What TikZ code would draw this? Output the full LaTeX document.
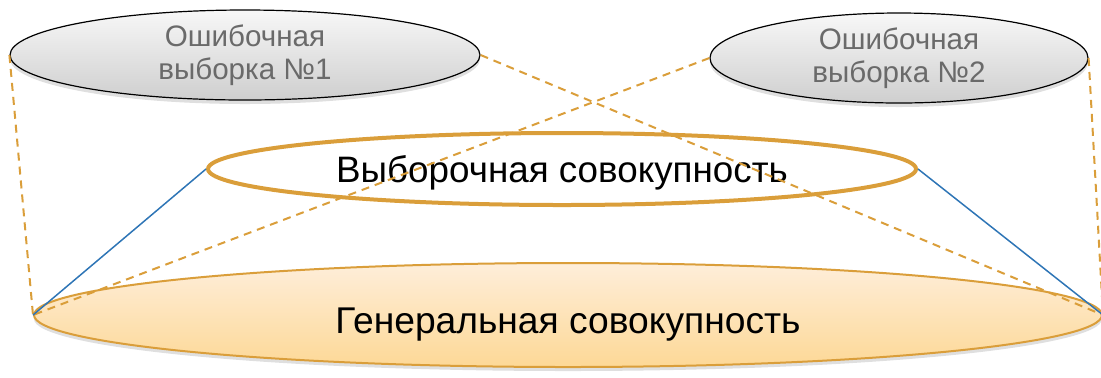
\documentclass[tikz,border=0pt]{standalone}
\usepackage{fontspec}
\setmainfont{Liberation Sans}
\usetikzlibrary{shapes.geometric,shadows}
\definecolor{gold}{HTML}{DA9E3A}
\definecolor{lineblue}{HTML}{2E75B6}
\definecolor{txtgray}{HTML}{6A6A6A}
\definecolor{popTop}{HTML}{FEEEDA}
\definecolor{popBot}{HTML}{FDD896}
\begin{document}
\begin{tikzpicture}
 [x=0.5pt,y=-0.5pt,
  every node/.style={ellipse,inner sep=0pt,align=center},
  errs/.style={draw=black,line width=0.6pt,top color=gray!6,bottom color=gray!38,text=txtgray,
    minimum height=45pt,font=\fontsize{14.8}{16.5}\selectfont,
    drop shadow={opacity=0.25,shadow xshift=0pt,shadow yshift=-2pt}},
  guess/.style={draw=gold,line width=1pt,dash pattern=on 4pt off 3pt}]
  \useasboundingbox (0,0) rectangle (1101,377);
  \node (gen)[draw=gold,line width=1pt,top color=popTop,bottom color=popBot,minimum width=534pt,minimum height=52pt,
    text height=22pt,font=\fontsize{18.6}{22}\selectfont,drop shadow={opacity=0.25,shadow xshift=0pt,shadow yshift=-2pt}] at (568,315) {Генеральная совокупность};
  \node (vyb)[draw=gold,line width=2pt,minimum width=354pt,minimum height=36pt,text height=17pt,font=\fontsize{18.4}{22}\selectfont] at (562,169) {Выборочная совокупность};
  \node (err1)[errs,minimum width=235pt] at (245,55) {Ошибочная\\выборка №1};
  \node (err2)[errs,minimum width=189pt] at (899,58) {Ошибочная\\выборка №2};

  \foreach \from/\to in {err1.west/gen.west,err1.east/gen.east,err2.west/gen.west,err2.east/gen.east}
    \draw[guess] (\from) -- (\to);
  \foreach \from/\to in {vyb.west/gen.west,vyb.east/gen.east}
    \draw[lineblue,line width=0.75pt] (\from) -- (\to);
\end{tikzpicture}
\end{document}
